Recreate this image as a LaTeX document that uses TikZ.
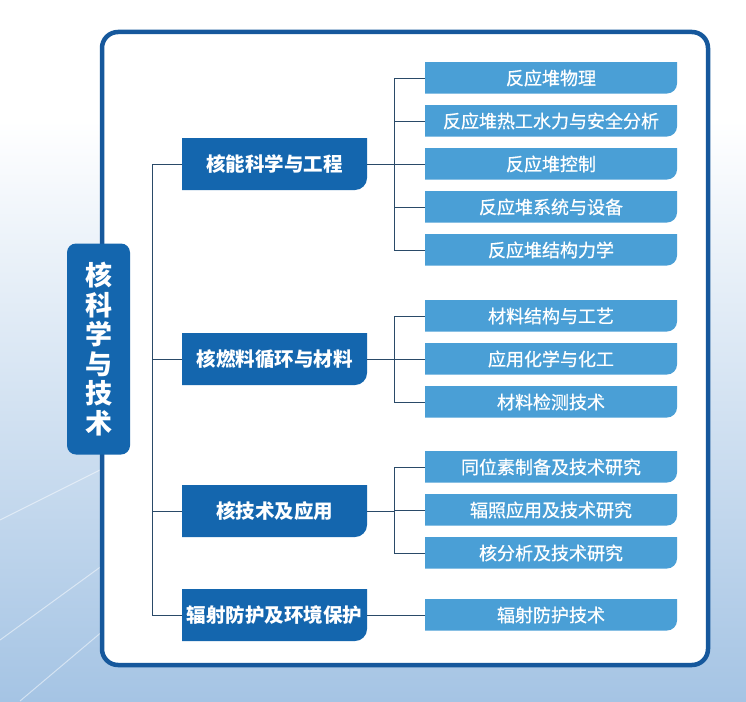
\documentclass[tikz,border=0pt]{standalone}
\usepackage{fontspec}
\usepackage{tikz}
\usetikzlibrary{positioning}
\newfontfamily\cjk{Noto Sans CJK SC}
\newfontfamily\cjkmed{Noto Sans CJK SC}[FakeBold=0.7]
\definecolor{framecol}{HTML}{16589C}
\definecolor{topblue}{HTML}{1466AE}
\definecolor{subblue}{HTML}{4A9FD6}
\definecolor{linecol}{HTML}{2A4A68}
\definecolor{bgblue}{HTML}{A5C4E4}
\tikzstyle{root} = [rectangle, rounded corners=9pt, minimum width=63pt,
minimum height=211pt, text centered, align=center, fill=topblue, text=white,
font=\cjk\bfseries\fontsize{27}{29.6}\selectfont]
\tikzstyle{field} = [rectangle, minimum width=185pt, minimum height=52pt,
inner sep=2pt, text centered, fill=white, text=white,
font=\cjk\bfseries\fontsize{19.5}{22}\selectfont,
path picture={\fill[topblue, rounded corners=12pt]
  ([shift={(-20pt,20pt)}]path picture bounding box.north west) rectangle
  (path picture bounding box.south east);}]
\tikzstyle{topic} = [rectangle, minimum width=252pt, minimum height=31pt,
inner sep=2pt, text centered, fill=white, text=white,
font=\cjkmed\fontsize{18}{20}\selectfont,
path picture={\fill[subblue, rounded corners=10pt]
  ([shift={(-20pt,20pt)}]path picture bounding box.north west) rectangle
  (path picture bounding box.south east);}]
\tikzstyle{link} = [line width=1pt, draw=linecol]

\begin{document}
\begin{tikzpicture}[x=1pt, y=-1pt, node distance=43pt]
  \useasboundingbox (0,0) rectangle (746,701);
  % Background and frame
  \fill[white] (0,0) rectangle (746,120);
  \shade[top color=white, bottom color=bgblue] (0,120) rectangle (746,701);
  \draw[white, opacity=0.5, line width=1pt] (0,640) -- (110,560);
  \draw[white, opacity=0.5, line width=1pt] (20,701) -- (110,625);
  \draw[white, opacity=0.5, line width=1pt] (0,520) -- (100,470);
  \draw[framecol, line width=4.5pt, rounded corners=16pt, fill=white]
       (102,32) rectangle (708,665);
  % Root
  \node (core) [root] at (98.5,349) {核\\科\\学\\与\\技\\术};
  % Fields
  \node (m1) [field] at (274.5,164) {核能科学与工程};
  \node (m2) [field, below of=m1, yshift=-152pt] {核燃料循环与材料};
  \node (m3) [field, below of=m2, yshift=-109pt] {核技术及应用};
  \node (m4) [field, below of=m3, yshift=-61pt] {辐射防护及环境保护};
  % Topics
  \node (t11) [topic] at (551,78) {反应堆物理};
  \node (t12) [topic, below of=t11] {反应堆热工水力与安全分析};
  \node (t13) [topic, below of=t12] {反应堆控制};
  \node (t14) [topic, below of=t13] {反应堆系统与设备};
  \node (t15) [topic, below of=t14] {反应堆结构力学};
  \node (t21) [topic, below of=t15, yshift=-23pt] {材料结构与工艺};
  \node (t22) [topic, below of=t21] {应用化学与化工};
  \node (t23) [topic, below of=t22] {材料检测技术};
  \node (t31) [topic, below of=t23, yshift=-22pt] {同位素制备及技术研究};
  \node (t32) [topic, below of=t31] {辐照应用及技术研究};
  \node (t33) [topic, below of=t32] {核分析及技术研究};
  \node (t41) [topic, below of=t33, yshift=-19pt] {辐射防护技术};
  % Connections
  \coordinate (trunk) at (152,0);
  \coordinate (fork) at (394.5,0);
  \draw [link] (m1.west) -- (m1.west -| trunk) |- (m4.west);
  \draw [link] (m2.west) -- (m2.west -| trunk);
  \draw [link] (m3.west) -- (m3.west -| trunk);
  \draw [link] (t11.west) -| (fork |- t15.west) -- (t15.west);
  \draw [link] (m1.east) -- (m1.east -| fork);
  \foreach \t in {t12,t13,t14}
    \draw [link] (\t.west) -- (\t.west -| fork);
  \draw [link] (t21.west) -| (fork |- t23.west) -- (t23.west);
  \draw [link] (m2.east) -- (m2.east -| fork);
  \draw [link] (t22.west) -- (t22.west -| fork);
  \draw [link] (t31.west) -| (fork |- t33.west) -- (t33.west);
  \draw [link] (m3.east) -- (m3.east -| fork);
  \draw [link] (t32.west) -- (t32.west -| fork);
  \draw [link] (m4.east) -- (t41.west);
\end{tikzpicture}
\end{document}
